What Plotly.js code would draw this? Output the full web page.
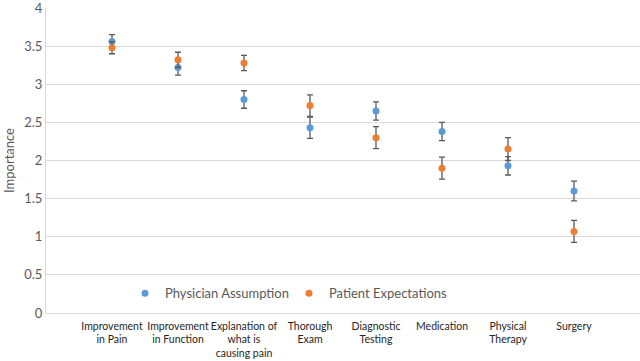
<!DOCTYPE html>
<html>
<head>
<meta charset="utf-8">
<script src="https://cdn.plot.ly/plotly-3.0.1.min.js"></script>
<style>html,body{margin:0;padding:0;background:#fff;}#chart{width:640px;height:361px;}</style>
</head>
<body>
<div id="chart"></div>
<script>
var categories = ["Improvement<br>in Pain", "Improvement<br>in Function", "Explanation of<br>what is<br>causing pain", "Thorough<br>Exam", "Diagnostic<br>Testing", "Medication", "Physical<br>Therapy", "Surgery"];
var positions = [1, 2, 3, 4, 5, 6, 7, 8];
var physicianAssumption = [3.56, 3.22, 2.80, 2.43, 2.65, 2.38, 1.93, 1.60];
var physicianError = [0.09, 0.10, 0.115, 0.14, 0.12, 0.12, 0.12, 0.13];
var patientExpectations = [3.48, 3.32, 3.28, 2.72, 2.30, 1.90, 2.15, 1.07];
var patientError = [0.08, 0.10, 0.10, 0.14, 0.145, 0.145, 0.15, 0.145];
var yTicks = [0, 0.5, 1, 1.5, 2, 2.5, 3, 3.5, 4];

var errStyle = function(arr){ return {type:'data', array:arr, visible:true, color:'#595959', thickness:1.3, width:3}; };

var traces = [
  {x: positions, y: physicianAssumption, name: 'Physician Assumption', type: 'scatter', mode: 'markers',
   marker: {color: '#5B9BD5', size: 7}, error_y: errStyle(physicianError)},
  {x: positions, y: patientExpectations, name: 'Patient Expectations', type: 'scatter', mode: 'markers',
   marker: {color: '#ED7D31', size: 7}, error_y: errStyle(patientError)}
];

var layout = {
  width: 640, height: 361,
  margin: {l: 46, r: 0, t: 8, b: 48},
  paper_bgcolor: '#fff', plot_bgcolor: '#fff',
  font: {family: 'Lato, sans-serif', color: '#595959'},
  showlegend: true,
  legend: {orientation: 'h', x: 0.133, y: 0.065, xanchor: 'left', yanchor: 'middle',
           font: {size: 13, color: '#595959'}, bgcolor: 'rgba(0,0,0,0)', entrywidth: 119, entrywidthmode: 'pixels',
           itemwidth: 30, tracegroupgap: 0},
  xaxis: {range: [0, 9], tickvals: positions, ticktext: categories, tickangle: 0, showgrid: false, zeroline: false,
          showline: false, ticks: '', ticklabelstandoff: 5, tickfont: {size: 10.5, color: '#262626'}, fixedrange: true},
  yaxis: {range: [0, 4], tickvals: yTicks, ticktext: yTicks.map(String), showgrid: true, gridcolor: '#D9D9D9',
          gridwidth: 1, zeroline: true, zerolinecolor: '#D9D9D9', showline: true, linecolor: '#D9D9D9',
          ticks: '', ticklabeloverflow: 'allow', tickfont: {size: 13, color: '#595959'},
          title: {text: 'Importance', font: {size: 13, color: '#595959'}, standoff: 6}}
};

Plotly.newPlot('chart', traces, layout, {displayModeBar: false, staticPlot: true});
</script>
</body>
</html>
